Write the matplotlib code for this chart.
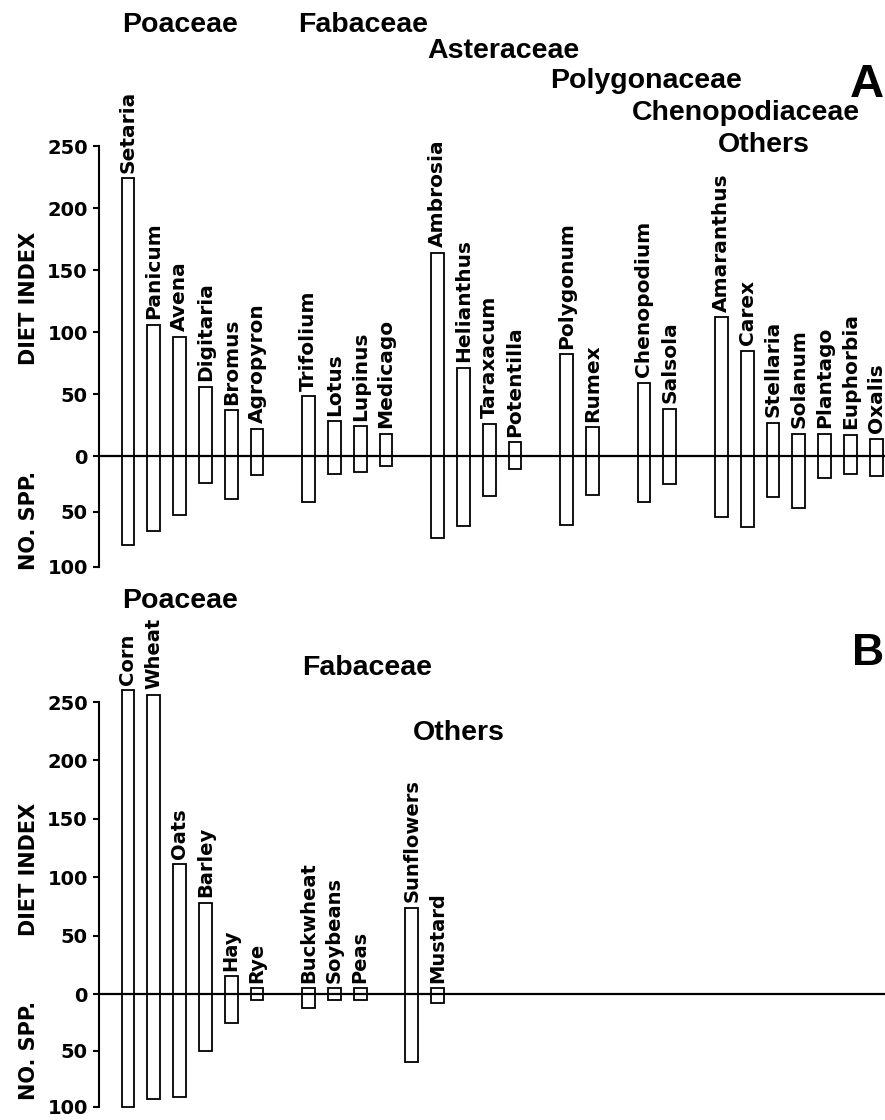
import matplotlib
matplotlib.use('Agg')
import matplotlib.pyplot as plt

# ---- data ----
# panel A: wild plant genera, grouped by family (slot = position along the axis)
a_names = ['Setaria', 'Panicum', 'Avena', 'Digitaria', 'Bromus', 'Agropyron',
           'Trifolium', 'Lotus', 'Lupinus', 'Medicago',
           'Ambrosia', 'Helianthus', 'Taraxacum', 'Potentilla',
           'Polygonum', 'Rumex',
           'Chenopodium', 'Salsola',
           'Amaranthus', 'Carex', 'Stellaria', 'Solanum', 'Plantago', 'Euphorbia', 'Oxalis']
a_slots = [0, 1, 2, 3, 4, 5,
           7, 8, 9, 10,
           12, 13, 14, 15,
           17, 18,
           20, 21,
           23, 24, 25, 26, 27, 28, 29]
a_diet = [224, 106, 96, 56, 37, 22,
          48, 28, 24, 18,
          164, 71, 26, 11,
          82, 23,
          59, 38,
          112, 85, 27, 18, 18, 17, 14]
a_nspp = [80, 68, 53, 24, 39, 17,
          41, 16, 14, 9,
          74, 63, 36, 12,
          62, 35,
          41, 25,
          55, 64, 37, 47, 20, 16, 18]
a_families = ['Poaceae', 'Fabaceae', 'Asteraceae', 'Polygonaceae', 'Chenopodiaceae', 'Others']

# panel B: crops
b_names = ['Corn', 'Wheat', 'Oats', 'Barley', 'Hay', 'Rye',
           'Buckwheat', 'Soybeans', 'Peas',
           'Sunflowers', 'Mustard']
b_slots = [0, 1, 2, 3, 4, 5,
           7, 8, 9,
           11, 12]
b_diet = [260, 256, 111, 78, 15, 5,
          5, 5, 5,
          74, 5]
b_nspp = [100, 93, 91, 50, 26, 5,
          12, 5, 5,
          60, 8]
b_families = ['Poaceae', 'Fabaceae', 'Others']

diet_ticks = [0, 50, 100, 150, 200, 250]
spp_ticks = [50, 100]

# ---- layout (pixels of the 885x1120 image) ----
W, H = 885, 1120
fig = plt.figure(figsize=(8.85, 11.2), dpi=100)

lblfont = dict(family='DejaVu Sans', fontweight='bold')
hdrfont = dict(family='Liberation Sans', fontweight='bold')


def px_axes(left, top, right, bottom):
    return fig.add_axes([left / W, 1 - bottom / H, (right - left) / W, (bottom - top) / H])


def fig_text(x, y, s, **kw):
    fig.text(x / W, 1 - y / H, s, **kw)


def panel(top0, zero, bot100, names, slots, diet, nspp, lblsize=14.5):
    up = px_axes(99, top0, 885, zero)
    dn = px_axes(99, zero, 885, bot100)
    xl = (-(128 - 99) / 25.8, (885 - 128) / 25.8)
    for ax in (up, dn):
        ax.set_xlim(*xl)
        ax.patch.set_alpha(0)
        ax.set_xticks([])
        for s in ('top', 'right', 'bottom'):
            ax.spines[s].set_visible(False)
        ax.spines['left'].set_linewidth(1.5)
        ax.tick_params(axis='y', direction='out', length=4, width=1.5, pad=4)
    up.set_ylim(0, 250)
    up.spines['left'].set_bounds(0, 250)
    up.set_yticks(diet_ticks)
    up.set_yticklabels([str(t) for t in diet_ticks], fontsize=14, **lblfont)
    dn.set_ylim(100, 0)
    dn.spines['left'].set_bounds(0, 100)
    dn.set_yticks(spp_ticks)
    dn.set_yticklabels([str(t) for t in spp_ticks], fontsize=14, **lblfont)

    up.bar(slots, diet, width=0.5, fill=False, edgecolor='black', linewidth=1.3, clip_on=False)
    dn.bar(slots, nspp, width=0.5, fill=False, edgecolor='black', linewidth=1.3, clip_on=False)
    up.axhline(0, color='black', linewidth=1.6, clip_on=False)

    for s, d, n in zip(slots, diet, names):
        up.annotate(n, (s, d), xytext=(0, 4), textcoords='offset points',
                    rotation=90, ha='center', va='bottom', fontsize=lblsize,
                    annotation_clip=False, **lblfont)
    return up, dn


# panel A
panel(146, 456, 567, a_names, a_slots, a_diet, a_nspp)
fig_text(29, 298, 'DIET INDEX', rotation=90, ha='center', va='center', fontsize=15, **lblfont)
fig_text(29, 520, 'NO. SPP.', rotation=90, ha='center', va='center', fontsize=15, **lblfont)
a_hdr_pos = [(122, 32), (298, 32), (427, 58), (550, 88), (632, 120), (718, 152)]
for f, (x, y) in zip(a_families, a_hdr_pos):
    fig_text(x, y, f, ha='left', va='baseline', fontsize=20.5, **hdrfont)
fig_text(884, 97, 'A', ha='right', va='baseline', fontsize=34, **hdrfont)

# panel B
panel(702, 994, 1107, b_names, b_slots, b_diet, b_nspp, lblsize=14)
fig_text(29, 869, 'DIET INDEX', rotation=90, ha='center', va='center', fontsize=15, **lblfont)
fig_text(29, 1050, 'NO. SPP.', rotation=90, ha='center', va='center', fontsize=15, **lblfont)
b_hdr_pos = [(122, 608), (302, 675), (413, 740)]
for f, (x, y) in zip(b_families, b_hdr_pos):
    fig_text(x, y, f, ha='left', va='baseline', fontsize=20.5, **hdrfont)
fig_text(884, 665, 'B', ha='right', va='baseline', fontsize=32, **hdrfont)

fig.savefig('out.png', dpi=100)
